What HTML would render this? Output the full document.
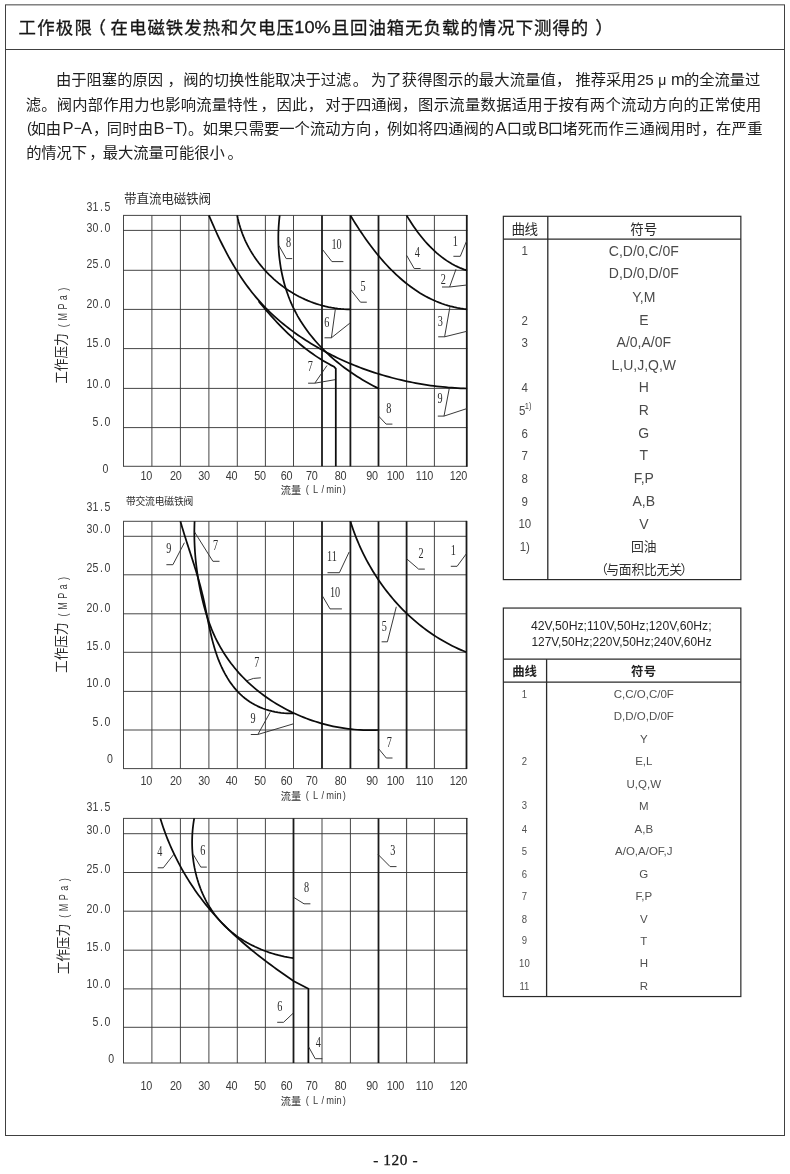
<!DOCTYPE html>
<html lang="zh"><head><meta charset="utf-8"><title>工作极限</title>
<style>html,body{margin:0;padding:0;background:#fff}body{width:790px;height:1174px;overflow:hidden;font-family:"Liberation Sans",sans-serif}svg{display:block;will-change:transform}.cj{font-family:"Liberation Sans","Noto Sans CJK SC",sans-serif}</style>
</head><body>
<svg width="790" height="1174" viewBox="0 0 790 1174" font-family="Liberation Sans, sans-serif">
<rect x="5.5" y="4.85" width="779" height="1130.65" fill="none" stroke="#404040" stroke-width="1"/>
<line x1="5.50" y1="49.50" x2="784.50" y2="49.50" stroke="#404040" stroke-width="1.0" stroke-linecap="butt"/>
<text class="cj" x="18.52" y="33.7" font-size="17.4" fill="#161616" stroke="#161616" stroke-width="0.3" textLength="73.3" lengthAdjust="spacing">工作极限</text>
<text class="cj" x="88.4" y="33.7" font-size="17.4" fill="#161616" stroke="#161616" stroke-width="0.3">（</text>
<text class="cj" x="110.52" y="33.7" font-size="17.4" fill="#161616" stroke="#161616" stroke-width="0.3" textLength="183.3" lengthAdjust="spacing">在电磁铁发热和欠电压</text>
<text x="294.3" y="33.3" font-family="Liberation Sans" font-size="17.2" fill="#161616" stroke="#161616" stroke-width="0.3" textLength="36.4" lengthAdjust="spacingAndGlyphs">10%</text>
<text class="cj" x="331.66" y="33.7" font-size="17.4" fill="#161616" stroke="#161616" stroke-width="0.3" textLength="256.6" lengthAdjust="spacing">且回油箱无负载的情况下测得的</text>
<text class="cj" x="595.6" y="33.7" font-size="17.4" fill="#161616" stroke="#161616" stroke-width="0.3">）</text>
<text class="cj" x="56.05" y="85.4" font-size="15.3" fill="#202020" textLength="106.96" lengthAdjust="spacing">由于阻塞的原因</text>
<text class="cj" x="167.59" y="85.4" font-size="15.3" fill="#202020">，</text>
<text class="cj" x="183.28" y="85.4" font-size="15.3" fill="#202020" textLength="168.1" lengthAdjust="spacing">阀的切换性能取决于过滤</text>
<text class="cj" x="352.68" y="85.4" font-size="15.3" fill="#202020">。</text>
<text class="cj" x="370.96" y="85.4" font-size="15.3" fill="#202020" textLength="184.8" lengthAdjust="spacing">为了获得图示的最大流量值</text>
<text class="cj" x="556.09" y="85.4" font-size="15.3" fill="#202020">，</text>
<text class="cj" x="575.55" y="85.4" font-size="15.3" fill="#202020" textLength="60.8" lengthAdjust="spacing">推荐采用</text>
<text x="636.90" y="84.90" font-family="Liberation Sans" font-size="15.2" text-anchor="start" fill="#202020">25</text>
<text x="658.20" y="84.90" font-family="Liberation Sans" font-size="14" text-anchor="start" fill="#202020">μ</text>
<text x="671.00" y="84.90" font-family="Liberation Sans" font-size="16.4" text-anchor="start" fill="#202020">m</text>
<text class="cj" x="684.11" y="85.4" font-size="15.3" fill="#202020" textLength="76.1" lengthAdjust="spacing">的全流量过</text>
<text class="cj" x="25.68" y="109.8" font-size="15.3" fill="#202020" textLength="232.3" lengthAdjust="spacing">滤。阀内部作用力也影响流量特性</text>
<text class="cj" x="260.49" y="109.8" font-size="15.3" fill="#202020">，</text>
<text class="cj" x="276.60" y="109.8" font-size="15.3" fill="#202020" textLength="30.6" lengthAdjust="spacing">因此</text>
<text class="cj" x="307.79" y="109.8" font-size="15.3" fill="#202020">，</text>
<text class="cj" x="325.33" y="109.8" font-size="15.3" fill="#202020" textLength="76.5" lengthAdjust="spacing">对于四通阀</text>
<text class="cj" x="401.89" y="109.8" font-size="15.3" fill="#202020">，</text>
<text class="cj" x="418.06" y="109.8" font-size="15.3" fill="#202020" textLength="343.2" lengthAdjust="spacing">图示流量数据适用于按有两个流动方向的正常使用</text>
<text x="27.00" y="133.20" font-family="Liberation Sans" font-size="14.6" text-anchor="start" fill="#202020">(</text>
<text class="cj" x="30.70" y="134.0" font-size="15.3" fill="#202020" textLength="30.4" lengthAdjust="spacing">如由</text>
<text x="62.60" y="133.50" font-family="Liberation Sans" font-size="16.6" text-anchor="start" fill="#202020">P</text>
<line x1="74.60" y1="128.40" x2="81.20" y2="128.40" stroke="#202020" stroke-width="1.1" stroke-linecap="butt"/>
<text x="81.00" y="133.50" font-family="Liberation Sans" font-size="16.6" text-anchor="start" fill="#202020">A</text>
<text class="cj" x="92.89" y="134.0" font-size="15.3" fill="#202020">，</text>
<text class="cj" x="106.69" y="134.0" font-size="15.3" fill="#202020" textLength="46.35" lengthAdjust="spacing">同时由</text>
<text x="153.40" y="133.50" font-family="Liberation Sans" font-size="16.6" text-anchor="start" fill="#202020">B</text>
<line x1="165.80" y1="128.40" x2="172.60" y2="128.40" stroke="#202020" stroke-width="1.1" stroke-linecap="butt"/>
<text x="173.20" y="133.50" font-family="Liberation Sans" font-size="16.6" text-anchor="start" fill="#202020">T</text>
<text x="182.60" y="133.20" font-family="Liberation Sans" font-size="14.6" text-anchor="start" fill="#202020">)</text>
<text class="cj" x="187.88" y="134.0" font-size="15.3" fill="#202020">。</text>
<text class="cj" x="202.70" y="134.0" font-size="15.3" fill="#202020" textLength="168.5" lengthAdjust="spacing">如果只需要一个流动方向</text>
<text class="cj" x="373.09" y="134.0" font-size="15.3" fill="#202020">，</text>
<text class="cj" x="387.04" y="134.0" font-size="15.3" fill="#202020" textLength="107.1" lengthAdjust="spacing">例如将四通阀的</text>
<text x="495.20" y="133.50" font-family="Liberation Sans" font-size="17.2" text-anchor="start" fill="#202020">A</text>
<text class="cj" x="506.63" y="134.0" font-size="15.3" fill="#202020" textLength="30.3" lengthAdjust="spacing">口或</text>
<text x="538.00" y="133.50" font-family="Liberation Sans" font-size="16.6" text-anchor="start" fill="#202020">B</text>
<text class="cj" x="547.83" y="134.0" font-size="15.3" fill="#202020">口</text>
<text class="cj" x="562.22" y="134.0" font-size="15.3" fill="#202020" textLength="138.8" lengthAdjust="spacing">堵死而作三通阀用时</text>
<text class="cj" x="701.29" y="134.0" font-size="15.3" fill="#202020">，</text>
<text class="cj" x="715.95" y="134.0" font-size="15.3" fill="#202020" textLength="46.5" lengthAdjust="spacing">在严重</text>
<text class="cj" x="26.21" y="158.3" font-size="15.3" fill="#202020" textLength="60.8" lengthAdjust="spacing">的情况下</text>
<text class="cj" x="89.29" y="158.3" font-size="15.3" fill="#202020">，</text>
<text class="cj" x="102.80" y="158.3" font-size="15.3" fill="#202020" textLength="122.0" lengthAdjust="spacing">最大流量可能很小</text>
<text class="cj" x="227.48" y="158.3" font-size="15.3" fill="#202020">。</text>
<text class="cj" x="124.11" y="202.8" font-size="12.6" fill="#2c2c2c" textLength="87.0" lengthAdjust="spacing">带直流电磁铁阀</text>
<line x1="123.50" y1="215.40" x2="123.50" y2="466.30" stroke="#3c3c3c" stroke-width="0.95" stroke-linecap="butt"/>
<line x1="151.90" y1="215.40" x2="151.90" y2="466.30" stroke="#3c3c3c" stroke-width="0.95" stroke-linecap="butt"/>
<line x1="180.40" y1="215.40" x2="180.40" y2="466.30" stroke="#3c3c3c" stroke-width="0.95" stroke-linecap="butt"/>
<line x1="208.90" y1="215.40" x2="208.90" y2="466.30" stroke="#3c3c3c" stroke-width="0.95" stroke-linecap="butt"/>
<line x1="237.30" y1="215.40" x2="237.30" y2="466.30" stroke="#3c3c3c" stroke-width="0.95" stroke-linecap="butt"/>
<line x1="265.40" y1="215.40" x2="265.40" y2="466.30" stroke="#3c3c3c" stroke-width="0.95" stroke-linecap="butt"/>
<line x1="293.50" y1="215.40" x2="293.50" y2="466.30" stroke="#3c3c3c" stroke-width="0.95" stroke-linecap="butt"/>
<line x1="406.60" y1="215.40" x2="406.60" y2="466.30" stroke="#3c3c3c" stroke-width="0.95" stroke-linecap="butt"/>
<line x1="434.40" y1="215.40" x2="434.40" y2="466.30" stroke="#3c3c3c" stroke-width="0.95" stroke-linecap="butt"/>
<line x1="123.00" y1="215.40" x2="467.30" y2="215.40" stroke="#3c3c3c" stroke-width="0.95" stroke-linecap="butt"/>
<line x1="123.00" y1="230.40" x2="467.30" y2="230.40" stroke="#3c3c3c" stroke-width="0.95" stroke-linecap="butt"/>
<line x1="123.00" y1="270.30" x2="467.30" y2="270.30" stroke="#3c3c3c" stroke-width="0.95" stroke-linecap="butt"/>
<line x1="123.00" y1="309.40" x2="467.30" y2="309.40" stroke="#3c3c3c" stroke-width="0.95" stroke-linecap="butt"/>
<line x1="123.00" y1="348.60" x2="467.30" y2="348.60" stroke="#3c3c3c" stroke-width="0.95" stroke-linecap="butt"/>
<line x1="123.00" y1="388.40" x2="467.30" y2="388.40" stroke="#3c3c3c" stroke-width="0.95" stroke-linecap="butt"/>
<line x1="123.00" y1="427.60" x2="467.30" y2="427.60" stroke="#3c3c3c" stroke-width="0.95" stroke-linecap="butt"/>
<line x1="123.00" y1="466.30" x2="467.30" y2="466.30" stroke="#3c3c3c" stroke-width="0.95" stroke-linecap="butt"/>
<line x1="466.80" y1="215.00" x2="466.80" y2="466.70" stroke="#1a1a1a" stroke-width="1.8" stroke-linecap="butt"/>
<line x1="322.00" y1="215.40" x2="322.00" y2="466.30" stroke="#1a1a1a" stroke-width="1.8" stroke-linecap="butt"/>
<line x1="350.40" y1="215.40" x2="350.40" y2="466.30" stroke="#1a1a1a" stroke-width="1.8" stroke-linecap="butt"/>
<line x1="378.50" y1="215.40" x2="378.50" y2="466.30" stroke="#1a1a1a" stroke-width="1.8" stroke-linecap="butt"/>
<text transform="translate(0,210.80) scale(0.88,1)" x="98.16 105.07 113.65 118.89" y="0" font-family="Liberation Sans, sans-serif" font-size="12.0" fill="#3a3a3a">31.5</text>
<text transform="translate(0,231.60) scale(0.88,1)" x="98.16 105.07 113.65 118.89" y="0" font-family="Liberation Sans, sans-serif" font-size="12.0" fill="#3a3a3a">30.0</text>
<text transform="translate(0,267.70) scale(0.88,1)" x="98.16 105.07 113.65 118.89" y="0" font-family="Liberation Sans, sans-serif" font-size="12.0" fill="#3a3a3a">25.0</text>
<text transform="translate(0,308.00) scale(0.88,1)" x="98.16 105.07 113.65 118.89" y="0" font-family="Liberation Sans, sans-serif" font-size="12.0" fill="#3a3a3a">20.0</text>
<text transform="translate(0,347.40) scale(0.88,1)" x="98.16 105.07 113.65 118.89" y="0" font-family="Liberation Sans, sans-serif" font-size="12.0" fill="#3a3a3a">15.0</text>
<text transform="translate(0,387.90) scale(0.88,1)" x="98.16 105.07 113.65 118.89" y="0" font-family="Liberation Sans, sans-serif" font-size="12.0" fill="#3a3a3a">10.0</text>
<text transform="translate(0,426.40) scale(0.88,1)" x="105.07 113.65 118.89" y="0" font-family="Liberation Sans, sans-serif" font-size="12.0" fill="#3a3a3a">5.0</text>
<text transform="translate(0,473.20) scale(0.88,1)" x="116.39" y="0" font-family="Liberation Sans, sans-serif" font-size="12.0" fill="#3a3a3a">0</text>
<text transform="translate(0,479.70) scale(0.86,1)" x="163.50 170.19" y="0" font-family="Liberation Sans, sans-serif" font-size="12.6" fill="#3a3a3a">10</text>
<text transform="translate(0,479.70) scale(0.86,1)" x="197.57 204.26" y="0" font-family="Liberation Sans, sans-serif" font-size="12.6" fill="#3a3a3a">20</text>
<text transform="translate(0,479.70) scale(0.86,1)" x="230.60 237.28" y="0" font-family="Liberation Sans, sans-serif" font-size="12.6" fill="#3a3a3a">30</text>
<text transform="translate(0,479.70) scale(0.86,1)" x="262.46 269.14" y="0" font-family="Liberation Sans, sans-serif" font-size="12.6" fill="#3a3a3a">40</text>
<text transform="translate(0,479.70) scale(0.86,1)" x="295.71 302.40" y="0" font-family="Liberation Sans, sans-serif" font-size="12.6" fill="#3a3a3a">50</text>
<text transform="translate(0,479.70) scale(0.86,1)" x="326.53 333.21" y="0" font-family="Liberation Sans, sans-serif" font-size="12.6" fill="#3a3a3a">60</text>
<text transform="translate(0,479.70) scale(0.86,1)" x="355.94 362.63" y="0" font-family="Liberation Sans, sans-serif" font-size="12.6" fill="#3a3a3a">70</text>
<text transform="translate(0,479.70) scale(0.86,1)" x="389.32 396.00" y="0" font-family="Liberation Sans, sans-serif" font-size="12.6" fill="#3a3a3a">80</text>
<text transform="translate(0,479.70) scale(0.86,1)" x="425.83 432.51" y="0" font-family="Liberation Sans, sans-serif" font-size="12.6" fill="#3a3a3a">90</text>
<text transform="translate(0,479.70) scale(0.86,1)" x="449.81 456.50 463.18" y="0" font-family="Liberation Sans, sans-serif" font-size="12.6" fill="#3a3a3a">100</text>
<text transform="translate(0,479.70) scale(0.86,1)" x="483.41 490.10 496.79" y="0" font-family="Liberation Sans, sans-serif" font-size="12.6" fill="#3a3a3a">110</text>
<text transform="translate(0,479.70) scale(0.86,1)" x="523.07 529.75 536.44" y="0" font-family="Liberation Sans, sans-serif" font-size="12.6" fill="#3a3a3a">120</text>
<text class="cj" x="280.85" y="493.7" font-size="10.6" fill="#2c2c2c" textLength="20.3" lengthAdjust="spacingAndGlyphs">流量</text>
<text transform="translate(0,492.50) scale(0.8,1)" x="382.07 391.27 402.01 407.67 417.84 420.52 428.57" y="0" font-family="Liberation Sans, sans-serif" font-size="11.6" fill="#3a3a3a">(L/min)</text>
<g transform="translate(66.30,383.60) rotate(-90)">
<text class="cj" x="-0.14" y="0" font-size="14" fill="#2c2c2c" textLength="50.4" lengthAdjust="spacingAndGlyphs">工作压力</text>
<text transform="translate(0,0.20) scale(0.72,1)" x="78.30 87.49 102.85 115.77 129.00" y="0" font-family="Liberation Sans, sans-serif" font-size="12.7" fill="#3a3a3a">(MPa)</text>
</g>
<path d="M406.60 215.40 L408.25 218.10 L409.95 220.80 L411.69 223.48 L413.48 226.14 L415.31 228.78 L417.20 231.39 L419.14 233.97 L421.13 236.51 L423.17 239.01 L425.26 241.46 L427.41 243.86 L429.61 246.21 L431.87 248.49 L434.19 250.71 L436.56 252.85 L438.99 254.92 L441.49 256.91 L444.04 258.81 L446.66 260.63 L449.34 262.35 L452.08 263.97 L454.89 265.48 L457.77 266.89 L460.71 268.18 L463.72 269.35 L466.80 270.40" fill="none" stroke="#0c0c0c" stroke-width="1.75" stroke-linejoin="round"/>
<path d="M350.40 215.40 L351.98 218.00 L353.58 220.60 L355.20 223.20 L356.86 225.79 L358.54 228.39 L360.24 230.97 L361.98 233.56 L363.74 236.13 L365.53 238.69 L367.34 241.23 L369.19 243.76 L371.06 246.27 L372.97 248.77 L374.90 251.24 L376.86 253.69 L378.85 256.11 L380.88 258.51 L382.93 260.87 L385.01 263.21 L387.13 265.51 L389.28 267.78 L391.46 270.01 L393.67 272.20 L395.91 274.35 L398.19 276.45 L400.50 278.51 L402.84 280.53 L405.22 282.49 L407.64 284.40 L410.08 286.26 L412.56 288.07 L415.08 289.82 L417.64 291.51 L420.22 293.14 L422.85 294.70 L425.51 296.20 L428.21 297.64 L430.95 299.00 L433.72 300.30 L436.53 301.52 L439.38 302.67 L442.27 303.74 L445.20 304.73 L448.16 305.64 L451.17 306.47 L454.21 307.21 L457.30 307.87 L460.43 308.44 L463.59 308.91 L466.80 309.30" fill="none" stroke="#0c0c0c" stroke-width="1.75" stroke-linejoin="round"/>
<path d="M237.20 215.40 L237.83 218.49 L238.55 221.56 L239.36 224.59 L240.26 227.60 L241.24 230.57 L242.30 233.51 L243.45 236.41 L244.67 239.27 L245.97 242.10 L247.35 244.89 L248.81 247.64 L250.33 250.34 L251.93 253.00 L253.60 255.62 L255.34 258.20 L257.15 260.72 L259.02 263.20 L260.95 265.63 L262.95 268.00 L265.01 270.33 L267.12 272.60 L269.30 274.81 L271.53 276.97 L273.81 279.08 L276.15 281.12 L278.54 283.10 L280.98 285.03 L283.47 286.89 L286.00 288.68 L288.58 290.41 L291.20 292.08 L293.87 293.67 L296.57 295.20 L299.31 296.66 L302.09 298.04 L304.91 299.35 L307.76 300.59 L310.64 301.76 L313.55 302.84 L316.49 303.85 L319.46 304.78 L322.45 305.62 L325.47 306.39 L328.51 307.07 L331.57 307.67 L334.65 308.18 L337.75 308.60 L340.87 308.94 L344.00 309.18 L347.14 309.34 L350.30 309.40" fill="none" stroke="#0c0c0c" stroke-width="1.75" stroke-linejoin="round"/>
<path d="M279.70 215.40 L279.35 218.45 L279.05 221.51 L278.80 224.57 L278.61 227.64 L278.46 230.72 L278.36 233.79 L278.32 236.88 L278.32 239.96 L278.38 243.04 L278.49 246.12 L278.66 249.20 L278.87 252.27 L279.14 255.33 L279.47 258.39 L279.85 261.44 L280.28 264.49 L280.76 267.52 L281.30 270.53 L281.90 273.54 L282.55 276.53 L283.26 279.50 L284.02 282.46 L284.84 285.40 L285.72 288.31 L286.66 291.21 L287.65 294.08 L288.70 296.93 L289.80 299.75 L290.97 302.55 L292.19 305.32 L293.48 308.06 L294.82 310.76 L296.22 313.44 L297.68 316.09 L299.20 318.70 L300.77 321.28 L302.40 323.83 L304.08 326.34 L305.81 328.83 L307.59 331.28 L309.42 333.69 L311.30 336.08 L313.23 338.43 L315.20 340.74 L317.22 343.02 L319.28 345.27 L321.38 347.48 L323.52 349.66 L325.70 351.81 L327.93 353.92 L330.18 355.99 L332.48 358.03 L334.81 360.04 L337.17 362.00 L339.56 363.94 L341.99 365.83 L344.44 367.69 L346.92 369.52 L349.44 371.30 L351.97 373.05 L354.53 374.77 L357.12 376.44 L359.73 378.08 L362.35 379.69 L365.00 381.25 L367.67 382.78 L370.35 384.26 L373.06 385.71 L375.77 387.13 L378.50 388.50" fill="none" stroke="#0c0c0c" stroke-width="1.75" stroke-linejoin="round"/>
<path d="M208.90 215.40 L210.08 218.17 L211.27 220.94 L212.48 223.71 L213.71 226.48 L214.95 229.24 L216.22 232.01 L217.50 234.77 L218.80 237.52 L220.12 240.27 L221.47 243.01 L222.83 245.75 L224.22 248.47 L225.63 251.18 L227.06 253.88 L228.52 256.57 L230.01 259.24 L231.51 261.90 L233.05 264.54 L234.61 267.16 L236.20 269.76 L237.82 272.34 L239.47 274.90 L241.15 277.44 L242.86 279.96 L244.59 282.45 L246.36 284.92 L248.16 287.36 L249.99 289.78 L251.85 292.17 L253.74 294.53 L255.67 296.87 L257.62 299.17 L259.61 301.44 L261.63 303.68 L263.69 305.89 L265.78 308.07 L267.90 310.22 L270.06 312.33 L272.24 314.40 L274.46 316.45 L276.71 318.46 L278.99 320.44 L281.30 322.39 L283.63 324.30 L285.99 326.19 L288.38 328.05 L290.79 329.88 L293.22 331.67 L295.68 333.44 L298.16 335.18 L300.66 336.89 L303.18 338.58 L305.72 340.23 L308.27 341.86 L310.85 343.46 L313.45 345.03 L316.06 346.57 L318.69 348.09 L321.33 349.58 L324.00 351.04 L326.68 352.47 L329.37 353.88 L332.08 355.26 L334.81 356.60 L337.55 357.93 L340.30 359.22 L343.07 360.49 L345.85 361.72 L348.65 362.93 L351.46 364.12 L354.28 365.27 L357.11 366.40 L359.96 367.50 L362.81 368.57 L365.68 369.61 L368.56 370.62 L371.44 371.61 L374.34 372.57 L377.24 373.50 L380.16 374.41 L383.08 375.28 L386.01 376.13 L388.95 376.95 L391.90 377.74 L394.85 378.51 L397.81 379.24 L400.78 379.95 L403.75 380.63 L406.73 381.29 L409.71 381.91 L412.69 382.51 L415.69 383.08 L418.68 383.62 L421.68 384.13 L424.68 384.62 L427.68 385.08 L430.69 385.51 L433.70 385.91 L436.71 386.29 L439.72 386.63 L442.73 386.95 L445.74 387.24 L448.75 387.51 L451.76 387.74 L454.77 387.95 L457.78 388.13 L460.79 388.28 L463.80 388.40 L466.80 388.50" fill="none" stroke="#0c0c0c" stroke-width="1.75" stroke-linejoin="round"/>
<path d="M258.60 301.20 L260.59 303.63 L262.59 306.04 L264.62 308.45 L266.67 310.84 L268.73 313.22 L270.82 315.58 L272.93 317.93 L275.06 320.26 L277.22 322.57 L279.39 324.85 L281.59 327.12 L283.82 329.36 L286.07 331.58 L288.35 333.76 L290.65 335.92 L292.97 338.05 L295.33 340.15 L297.71 342.21 L300.12 344.24 L302.55 346.24 L305.02 348.19 L307.52 350.11 L310.04 351.99 L312.60 353.82 L315.18 355.61 L317.80 357.36 L320.45 359.06 L323.14 360.71 L325.85 362.31 L328.60 363.86 L331.38 365.36 L334.20 366.80 L335.80 368.60 L335.80 466.30" fill="none" stroke="#0c0c0c" stroke-width="1.75" stroke-linejoin="round"/>
<text transform="translate(288.60,246.70) scale(0.7,1)" font-family="Liberation Serif" font-size="14.6" text-anchor="middle" fill="#2a2a2a">8</text>
<polyline points="278.80,245.40 286.20,258.60 292.20,258.60" fill="none" stroke="#2e2e2e" stroke-width="0.95" stroke-linejoin="round"/>
<text transform="translate(336.60,249.30) scale(0.7,1)" font-family="Liberation Serif" font-size="14.6" text-anchor="middle" fill="#2a2a2a">10</text>
<polyline points="321.90,248.70 331.90,261.60 343.40,261.60" fill="none" stroke="#2e2e2e" stroke-width="0.95" stroke-linejoin="round"/>
<text transform="translate(363.00,290.70) scale(0.7,1)" font-family="Liberation Serif" font-size="14.6" text-anchor="middle" fill="#2a2a2a">5</text>
<polyline points="350.40,289.50 360.50,302.20 366.80,302.20" fill="none" stroke="#2e2e2e" stroke-width="0.95" stroke-linejoin="round"/>
<text transform="translate(417.20,256.50) scale(0.7,1)" font-family="Liberation Serif" font-size="14.6" text-anchor="middle" fill="#2a2a2a">4</text>
<polyline points="406.60,255.30 414.20,268.50 420.60,268.50" fill="none" stroke="#2e2e2e" stroke-width="0.95" stroke-linejoin="round"/>
<text transform="translate(455.40,245.50) scale(0.7,1)" font-family="Liberation Serif" font-size="14.6" text-anchor="middle" fill="#2a2a2a">1</text>
<polyline points="466.60,241.00 460.30,256.30 453.40,256.30" fill="none" stroke="#2e2e2e" stroke-width="0.95" stroke-linejoin="round"/>
<text transform="translate(443.40,283.50) scale(0.7,1)" font-family="Liberation Serif" font-size="14.6" text-anchor="middle" fill="#2a2a2a">2</text>
<polyline points="442.00,287.00 449.60,287.00 456.00,269.20" fill="none" stroke="#2e2e2e" stroke-width="0.95" stroke-linejoin="round"/>
<polyline points="449.60,287.00 466.80,285.00" fill="none" stroke="#2e2e2e" stroke-width="0.95" stroke-linejoin="round"/>
<text transform="translate(440.30,325.90) scale(0.7,1)" font-family="Liberation Serif" font-size="14.6" text-anchor="middle" fill="#2a2a2a">3</text>
<polyline points="438.20,336.80 444.60,336.80 450.00,306.50" fill="none" stroke="#2e2e2e" stroke-width="0.95" stroke-linejoin="round"/>
<polyline points="444.60,336.80 466.80,331.30" fill="none" stroke="#2e2e2e" stroke-width="0.95" stroke-linejoin="round"/>
<text transform="translate(326.70,326.60) scale(0.7,1)" font-family="Liberation Serif" font-size="14.6" text-anchor="middle" fill="#2a2a2a">6</text>
<polyline points="324.50,337.80 331.40,337.80 335.40,308.80" fill="none" stroke="#2e2e2e" stroke-width="0.95" stroke-linejoin="round"/>
<polyline points="331.40,337.80 349.80,323.20" fill="none" stroke="#2e2e2e" stroke-width="0.95" stroke-linejoin="round"/>
<text transform="translate(310.30,370.80) scale(0.7,1)" font-family="Liberation Serif" font-size="14.6" text-anchor="middle" fill="#2a2a2a">7</text>
<polyline points="308.10,383.20 314.80,383.20 327.00,365.50" fill="none" stroke="#2e2e2e" stroke-width="0.95" stroke-linejoin="round"/>
<polyline points="314.80,383.20 335.00,379.70" fill="none" stroke="#2e2e2e" stroke-width="0.95" stroke-linejoin="round"/>
<text transform="translate(388.90,412.80) scale(0.7,1)" font-family="Liberation Serif" font-size="14.6" text-anchor="middle" fill="#2a2a2a">8</text>
<polyline points="378.60,416.10 386.10,424.10 392.40,424.10" fill="none" stroke="#2e2e2e" stroke-width="0.95" stroke-linejoin="round"/>
<text transform="translate(440.10,403.30) scale(0.7,1)" font-family="Liberation Serif" font-size="14.6" text-anchor="middle" fill="#2a2a2a">9</text>
<polyline points="437.80,416.10 444.00,416.10 449.20,388.80" fill="none" stroke="#2e2e2e" stroke-width="0.95" stroke-linejoin="round"/>
<polyline points="444.00,416.10 466.80,408.60" fill="none" stroke="#2e2e2e" stroke-width="0.95" stroke-linejoin="round"/>
<text class="cj" x="125.88" y="504.6" font-size="9.8" fill="#2c2c2c" textLength="67.5" lengthAdjust="spacing">带交流电磁铁阀</text>
<line x1="123.50" y1="521.30" x2="123.50" y2="768.60" stroke="#3c3c3c" stroke-width="0.95" stroke-linecap="butt"/>
<line x1="151.90" y1="521.30" x2="151.90" y2="768.60" stroke="#3c3c3c" stroke-width="0.95" stroke-linecap="butt"/>
<line x1="180.40" y1="521.30" x2="180.40" y2="768.60" stroke="#3c3c3c" stroke-width="0.95" stroke-linecap="butt"/>
<line x1="208.90" y1="521.30" x2="208.90" y2="768.60" stroke="#3c3c3c" stroke-width="0.95" stroke-linecap="butt"/>
<line x1="237.30" y1="521.30" x2="237.30" y2="768.60" stroke="#3c3c3c" stroke-width="0.95" stroke-linecap="butt"/>
<line x1="265.40" y1="521.30" x2="265.40" y2="768.60" stroke="#3c3c3c" stroke-width="0.95" stroke-linecap="butt"/>
<line x1="293.50" y1="521.30" x2="293.50" y2="768.60" stroke="#3c3c3c" stroke-width="0.95" stroke-linecap="butt"/>
<line x1="434.40" y1="521.30" x2="434.40" y2="768.60" stroke="#3c3c3c" stroke-width="0.95" stroke-linecap="butt"/>
<line x1="123.00" y1="521.30" x2="467.00" y2="521.30" stroke="#3c3c3c" stroke-width="0.95" stroke-linecap="butt"/>
<line x1="123.00" y1="536.30" x2="467.00" y2="536.30" stroke="#3c3c3c" stroke-width="0.95" stroke-linecap="butt"/>
<line x1="123.00" y1="574.80" x2="467.00" y2="574.80" stroke="#3c3c3c" stroke-width="0.95" stroke-linecap="butt"/>
<line x1="123.00" y1="613.80" x2="467.00" y2="613.80" stroke="#3c3c3c" stroke-width="0.95" stroke-linecap="butt"/>
<line x1="123.00" y1="652.30" x2="467.00" y2="652.30" stroke="#3c3c3c" stroke-width="0.95" stroke-linecap="butt"/>
<line x1="123.00" y1="691.40" x2="467.00" y2="691.40" stroke="#3c3c3c" stroke-width="0.95" stroke-linecap="butt"/>
<line x1="123.00" y1="730.00" x2="467.00" y2="730.00" stroke="#3c3c3c" stroke-width="0.95" stroke-linecap="butt"/>
<line x1="123.00" y1="768.60" x2="467.00" y2="768.60" stroke="#3c3c3c" stroke-width="0.95" stroke-linecap="butt"/>
<line x1="466.50" y1="520.90" x2="466.50" y2="769.00" stroke="#1a1a1a" stroke-width="1.8" stroke-linecap="butt"/>
<line x1="322.00" y1="521.30" x2="322.00" y2="768.60" stroke="#1a1a1a" stroke-width="1.8" stroke-linecap="butt"/>
<line x1="350.40" y1="521.30" x2="350.40" y2="768.60" stroke="#1a1a1a" stroke-width="1.8" stroke-linecap="butt"/>
<line x1="378.50" y1="521.30" x2="378.50" y2="768.60" stroke="#1a1a1a" stroke-width="1.8" stroke-linecap="butt"/>
<line x1="406.60" y1="521.30" x2="406.60" y2="768.60" stroke="#1a1a1a" stroke-width="1.8" stroke-linecap="butt"/>
<text transform="translate(0,510.90) scale(0.88,1)" x="98.16 105.07 113.65 118.89" y="0" font-family="Liberation Sans, sans-serif" font-size="12.0" fill="#3a3a3a">31.5</text>
<text transform="translate(0,533.10) scale(0.88,1)" x="98.16 105.07 113.65 118.89" y="0" font-family="Liberation Sans, sans-serif" font-size="12.0" fill="#3a3a3a">30.0</text>
<text transform="translate(0,572.00) scale(0.88,1)" x="98.16 105.07 113.65 118.89" y="0" font-family="Liberation Sans, sans-serif" font-size="12.0" fill="#3a3a3a">25.0</text>
<text transform="translate(0,612.10) scale(0.88,1)" x="98.16 105.07 113.65 118.89" y="0" font-family="Liberation Sans, sans-serif" font-size="12.0" fill="#3a3a3a">20.0</text>
<text transform="translate(0,650.00) scale(0.88,1)" x="98.16 105.07 113.65 118.89" y="0" font-family="Liberation Sans, sans-serif" font-size="12.0" fill="#3a3a3a">15.0</text>
<text transform="translate(0,686.60) scale(0.88,1)" x="98.16 105.07 113.65 118.89" y="0" font-family="Liberation Sans, sans-serif" font-size="12.0" fill="#3a3a3a">10.0</text>
<text transform="translate(0,725.70) scale(0.88,1)" x="105.07 113.65 118.89" y="0" font-family="Liberation Sans, sans-serif" font-size="12.0" fill="#3a3a3a">5.0</text>
<text transform="translate(0,762.50) scale(0.88,1)" x="121.62" y="0" font-family="Liberation Sans, sans-serif" font-size="12.0" fill="#3a3a3a">0</text>
<text transform="translate(0,784.60) scale(0.86,1)" x="163.50 170.19" y="0" font-family="Liberation Sans, sans-serif" font-size="12.6" fill="#3a3a3a">10</text>
<text transform="translate(0,784.60) scale(0.86,1)" x="197.57 204.26" y="0" font-family="Liberation Sans, sans-serif" font-size="12.6" fill="#3a3a3a">20</text>
<text transform="translate(0,784.60) scale(0.86,1)" x="230.60 237.28" y="0" font-family="Liberation Sans, sans-serif" font-size="12.6" fill="#3a3a3a">30</text>
<text transform="translate(0,784.60) scale(0.86,1)" x="262.46 269.14" y="0" font-family="Liberation Sans, sans-serif" font-size="12.6" fill="#3a3a3a">40</text>
<text transform="translate(0,784.60) scale(0.86,1)" x="295.71 302.40" y="0" font-family="Liberation Sans, sans-serif" font-size="12.6" fill="#3a3a3a">50</text>
<text transform="translate(0,784.60) scale(0.86,1)" x="326.53 333.21" y="0" font-family="Liberation Sans, sans-serif" font-size="12.6" fill="#3a3a3a">60</text>
<text transform="translate(0,784.60) scale(0.86,1)" x="355.94 362.63" y="0" font-family="Liberation Sans, sans-serif" font-size="12.6" fill="#3a3a3a">70</text>
<text transform="translate(0,784.60) scale(0.86,1)" x="389.32 396.00" y="0" font-family="Liberation Sans, sans-serif" font-size="12.6" fill="#3a3a3a">80</text>
<text transform="translate(0,784.60) scale(0.86,1)" x="425.83 432.51" y="0" font-family="Liberation Sans, sans-serif" font-size="12.6" fill="#3a3a3a">90</text>
<text transform="translate(0,784.60) scale(0.86,1)" x="449.81 456.50 463.18" y="0" font-family="Liberation Sans, sans-serif" font-size="12.6" fill="#3a3a3a">100</text>
<text transform="translate(0,784.60) scale(0.86,1)" x="483.41 490.10 496.79" y="0" font-family="Liberation Sans, sans-serif" font-size="12.6" fill="#3a3a3a">110</text>
<text transform="translate(0,784.60) scale(0.86,1)" x="523.07 529.75 536.44" y="0" font-family="Liberation Sans, sans-serif" font-size="12.6" fill="#3a3a3a">120</text>
<text class="cj" x="280.85" y="799.9" font-size="10.6" fill="#2c2c2c" textLength="20.3" lengthAdjust="spacingAndGlyphs">流量</text>
<text transform="translate(0,798.70) scale(0.8,1)" x="382.07 391.27 402.01 407.67 417.84 420.52 428.57" y="0" font-family="Liberation Sans, sans-serif" font-size="11.6" fill="#3a3a3a">(L/min)</text>
<g transform="translate(66.30,672.80) rotate(-90)">
<text class="cj" x="-0.14" y="0" font-size="14" fill="#2c2c2c" textLength="50.4" lengthAdjust="spacingAndGlyphs">工作压力</text>
<text transform="translate(0,0.20) scale(0.72,1)" x="78.30 87.49 102.85 115.77 129.00" y="0" font-family="Liberation Sans, sans-serif" font-size="12.7" fill="#3a3a3a">(MPa)</text>
</g>
<path d="M180.40 521.30 L181.25 524.25 L182.11 527.18 L182.99 530.11 L183.89 533.02 L184.79 535.93 L185.71 538.83 L186.63 541.73 L187.56 544.61 L188.49 547.50 L189.43 550.38 L190.36 553.26 L191.30 556.14 L192.22 559.02 L193.14 561.89 L194.06 564.77 L194.96 567.65 L195.85 570.54 L196.73 573.43 L197.59 576.32 L198.44 579.23 L199.26 582.13 L200.06 585.05 L200.84 587.98 L201.59 590.91 L202.32 593.86 L203.01 596.82 L203.68 599.79 L204.33 602.77 L204.96 605.75 L205.57 608.75 L206.18 611.75 L206.78 614.75 L207.38 617.75 L207.98 620.76 L208.59 623.76 L209.22 626.76 L209.86 629.75 L210.53 632.74 L211.22 635.72 L211.94 638.69 L212.70 641.65 L213.50 644.60 L214.34 647.53 L215.23 650.45 L216.17 653.35 L217.17 656.23 L218.23 659.09 L219.36 661.93 L220.55 664.73 L221.80 667.50 L223.13 670.23 L224.52 672.92 L225.99 675.56 L227.52 678.14 L229.13 680.67 L230.82 683.13 L232.59 685.52 L234.43 687.85 L236.35 690.09 L238.36 692.26 L240.45 694.33 L242.62 696.32 L244.88 698.21 L247.23 700.00 L249.67 701.68 L252.20 703.26 L254.81 704.73 L257.49 706.08 L260.24 707.33 L263.06 708.46 L265.94 709.48 L268.87 710.39 L271.86 711.17 L274.89 711.84 L277.95 712.39 L281.06 712.82 L284.19 713.13 L287.34 713.31 L290.51 713.37 L293.70 713.30" fill="none" stroke="#0c0c0c" stroke-width="1.75" stroke-linejoin="round"/>
<path d="M194.60 521.30 L194.48 524.33 L194.40 527.36 L194.35 530.39 L194.33 533.43 L194.35 536.47 L194.41 539.51 L194.50 542.55 L194.63 545.60 L194.79 548.65 L194.98 551.69 L195.21 554.74 L195.47 557.78 L195.76 560.83 L196.09 563.87 L196.45 566.92 L196.84 569.95 L197.27 572.99 L197.72 576.02 L198.21 579.05 L198.73 582.08 L199.28 585.10 L199.86 588.11 L200.47 591.12 L201.12 594.12 L201.79 597.12 L202.49 600.11 L203.23 603.08 L204.00 606.05 L204.81 609.01 L205.66 611.95 L206.55 614.88 L207.48 617.79 L208.45 620.68 L209.47 623.55 L210.54 626.41 L211.66 629.24 L212.83 632.05 L214.06 634.83 L215.33 637.58 L216.67 640.31 L218.06 643.01 L219.50 645.68 L221.00 648.32 L222.56 650.92 L224.16 653.49 L225.82 656.03 L227.53 658.53 L229.30 661.00 L231.11 663.44 L232.97 665.83 L234.88 668.19 L236.83 670.51 L238.83 672.80 L240.88 675.04 L242.97 677.24 L245.10 679.41 L247.28 681.53 L249.49 683.61 L251.75 685.65 L254.04 687.65 L256.38 689.61 L258.74 691.53 L261.15 693.40 L263.59 695.23 L266.07 697.02 L268.57 698.77 L271.11 700.47 L273.68 702.13 L276.28 703.74 L278.91 705.31 L281.57 706.84 L284.26 708.32 L286.97 709.75 L289.70 711.14 L292.46 712.49 L295.25 713.78 L298.05 715.03 L300.88 716.24 L303.72 717.39 L306.59 718.50 L309.47 719.56 L312.37 720.57 L315.29 721.54 L318.22 722.45 L321.17 723.32 L324.13 724.13 L327.10 724.90 L330.08 725.62 L333.07 726.28 L336.07 726.90 L339.08 727.46 L342.10 727.97 L345.12 728.43 L348.15 728.84 L351.18 729.20 L354.22 729.50 L357.26 729.75 L360.30 729.95 L363.33 730.10 L366.37 730.19 L369.41 730.22 L372.44 730.20 L375.47 730.13 L378.50 730.00" fill="none" stroke="#0c0c0c" stroke-width="1.75" stroke-linejoin="round"/>
<path d="M350.40 521.30 L351.32 524.21 L352.29 527.11 L353.29 529.99 L354.34 532.87 L355.42 535.73 L356.55 538.58 L357.71 541.41 L358.92 544.23 L360.16 547.03 L361.44 549.82 L362.76 552.59 L364.12 555.34 L365.52 558.07 L366.95 560.79 L368.42 563.48 L369.93 566.15 L371.48 568.81 L373.06 571.44 L374.68 574.05 L376.34 576.63 L378.03 579.19 L379.76 581.73 L381.52 584.24 L383.32 586.73 L385.16 589.19 L387.03 591.62 L388.93 594.02 L390.87 596.40 L392.84 598.75 L394.84 601.06 L396.88 603.35 L398.95 605.60 L401.06 607.83 L403.19 610.02 L405.36 612.17 L407.57 614.30 L409.80 616.38 L412.07 618.44 L414.36 620.45 L416.69 622.43 L419.05 624.38 L421.44 626.28 L423.86 628.15 L426.31 629.98 L428.79 631.76 L431.30 633.51 L433.84 635.21 L436.40 636.88 L439.00 638.50 L441.63 640.07 L444.28 641.61 L446.96 643.09 L449.67 644.54 L452.41 645.93 L455.17 647.28 L457.97 648.59 L460.78 649.84 L463.63 651.04 L466.50 652.20" fill="none" stroke="#0c0c0c" stroke-width="1.75" stroke-linejoin="round"/>
<text transform="translate(168.80,552.90) scale(0.7,1)" font-family="Liberation Serif" font-size="14.6" text-anchor="middle" fill="#2a2a2a">9</text>
<polyline points="166.40,564.70 172.90,564.70 184.40,542.70" fill="none" stroke="#2e2e2e" stroke-width="0.95" stroke-linejoin="round"/>
<text transform="translate(215.60,549.90) scale(0.7,1)" font-family="Liberation Serif" font-size="14.6" text-anchor="middle" fill="#2a2a2a">7</text>
<polyline points="194.50,531.90 212.90,561.30 219.50,561.30" fill="none" stroke="#2e2e2e" stroke-width="0.95" stroke-linejoin="round"/>
<text transform="translate(332.00,561.10) scale(0.7,1)" font-family="Liberation Serif" font-size="14.6" text-anchor="middle" fill="#2a2a2a">11</text>
<polyline points="327.50,572.70 339.40,572.70 349.20,551.90" fill="none" stroke="#2e2e2e" stroke-width="0.95" stroke-linejoin="round"/>
<text transform="translate(335.10,597.30) scale(0.7,1)" font-family="Liberation Serif" font-size="14.6" text-anchor="middle" fill="#2a2a2a">10</text>
<polyline points="322.60,596.20 330.00,608.90 341.90,608.90" fill="none" stroke="#2e2e2e" stroke-width="0.95" stroke-linejoin="round"/>
<text transform="translate(421.10,558.10) scale(0.7,1)" font-family="Liberation Serif" font-size="14.6" text-anchor="middle" fill="#2a2a2a">2</text>
<polyline points="406.50,558.70 418.60,569.10 424.80,569.10" fill="none" stroke="#2e2e2e" stroke-width="0.95" stroke-linejoin="round"/>
<text transform="translate(453.30,555.00) scale(0.7,1)" font-family="Liberation Serif" font-size="14.6" text-anchor="middle" fill="#2a2a2a">1</text>
<polyline points="466.40,553.70 457.10,566.30 450.80,566.30" fill="none" stroke="#2e2e2e" stroke-width="0.95" stroke-linejoin="round"/>
<text transform="translate(384.20,630.70) scale(0.7,1)" font-family="Liberation Serif" font-size="14.6" text-anchor="middle" fill="#2a2a2a">5</text>
<polyline points="381.60,641.80 387.40,641.80 396.30,606.80" fill="none" stroke="#2e2e2e" stroke-width="0.95" stroke-linejoin="round"/>
<text transform="translate(256.90,666.90) scale(0.7,1)" font-family="Liberation Serif" font-size="14.6" text-anchor="middle" fill="#2a2a2a">7</text>
<path d="M246.6 680.8Q253 677.6 260.8 677.8" fill="none" stroke="#2e2e2e" stroke-width="0.95"/>
<text transform="translate(253.00,722.60) scale(0.7,1)" font-family="Liberation Serif" font-size="14.6" text-anchor="middle" fill="#2a2a2a">9</text>
<polyline points="250.80,734.50 257.80,734.50 270.10,712.40" fill="none" stroke="#2e2e2e" stroke-width="0.95" stroke-linejoin="round"/>
<polyline points="257.80,734.50 293.20,723.90" fill="none" stroke="#2e2e2e" stroke-width="0.95" stroke-linejoin="round"/>
<text transform="translate(389.30,746.80) scale(0.7,1)" font-family="Liberation Serif" font-size="14.6" text-anchor="middle" fill="#2a2a2a">7</text>
<polyline points="378.70,748.80 386.30,758.00 392.50,758.00" fill="none" stroke="#2e2e2e" stroke-width="0.95" stroke-linejoin="round"/>
<line x1="123.50" y1="818.40" x2="123.50" y2="1063.00" stroke="#3c3c3c" stroke-width="0.95" stroke-linecap="butt"/>
<line x1="151.90" y1="818.40" x2="151.90" y2="1063.00" stroke="#3c3c3c" stroke-width="0.95" stroke-linecap="butt"/>
<line x1="180.40" y1="818.40" x2="180.40" y2="1063.00" stroke="#3c3c3c" stroke-width="0.95" stroke-linecap="butt"/>
<line x1="208.90" y1="818.40" x2="208.90" y2="1063.00" stroke="#3c3c3c" stroke-width="0.95" stroke-linecap="butt"/>
<line x1="237.30" y1="818.40" x2="237.30" y2="1063.00" stroke="#3c3c3c" stroke-width="0.95" stroke-linecap="butt"/>
<line x1="265.40" y1="818.40" x2="265.40" y2="1063.00" stroke="#3c3c3c" stroke-width="0.95" stroke-linecap="butt"/>
<line x1="322.00" y1="818.40" x2="322.00" y2="1063.00" stroke="#3c3c3c" stroke-width="0.95" stroke-linecap="butt"/>
<line x1="350.40" y1="818.40" x2="350.40" y2="1063.00" stroke="#3c3c3c" stroke-width="0.95" stroke-linecap="butt"/>
<line x1="406.60" y1="818.40" x2="406.60" y2="1063.00" stroke="#3c3c3c" stroke-width="0.95" stroke-linecap="butt"/>
<line x1="434.40" y1="818.40" x2="434.40" y2="1063.00" stroke="#3c3c3c" stroke-width="0.95" stroke-linecap="butt"/>
<line x1="123.00" y1="818.40" x2="467.30" y2="818.40" stroke="#3c3c3c" stroke-width="0.95" stroke-linecap="butt"/>
<line x1="123.00" y1="833.70" x2="467.30" y2="833.70" stroke="#3c3c3c" stroke-width="0.95" stroke-linecap="butt"/>
<line x1="123.00" y1="872.50" x2="467.30" y2="872.50" stroke="#3c3c3c" stroke-width="0.95" stroke-linecap="butt"/>
<line x1="123.00" y1="911.20" x2="467.30" y2="911.20" stroke="#3c3c3c" stroke-width="0.95" stroke-linecap="butt"/>
<line x1="123.00" y1="950.20" x2="467.30" y2="950.20" stroke="#3c3c3c" stroke-width="0.95" stroke-linecap="butt"/>
<line x1="123.00" y1="988.90" x2="467.30" y2="988.90" stroke="#3c3c3c" stroke-width="0.95" stroke-linecap="butt"/>
<line x1="123.00" y1="1027.30" x2="467.30" y2="1027.30" stroke="#3c3c3c" stroke-width="0.95" stroke-linecap="butt"/>
<line x1="123.00" y1="1063.00" x2="467.30" y2="1063.00" stroke="#3c3c3c" stroke-width="0.95" stroke-linecap="butt"/>
<line x1="466.80" y1="818.00" x2="466.80" y2="1063.40" stroke="#1a1a1a" stroke-width="1.3" stroke-linecap="butt"/>
<line x1="293.50" y1="818.40" x2="293.50" y2="1063.00" stroke="#1a1a1a" stroke-width="1.8" stroke-linecap="butt"/>
<line x1="378.50" y1="818.40" x2="378.50" y2="1063.00" stroke="#1a1a1a" stroke-width="1.8" stroke-linecap="butt"/>
<text transform="translate(0,811.10) scale(0.88,1)" x="98.16 105.07 113.65 118.89" y="0" font-family="Liberation Sans, sans-serif" font-size="12.0" fill="#3a3a3a">31.5</text>
<text transform="translate(0,834.00) scale(0.88,1)" x="98.16 105.07 113.65 118.89" y="0" font-family="Liberation Sans, sans-serif" font-size="12.0" fill="#3a3a3a">30.0</text>
<text transform="translate(0,872.80) scale(0.88,1)" x="98.16 105.07 113.65 118.89" y="0" font-family="Liberation Sans, sans-serif" font-size="12.0" fill="#3a3a3a">25.0</text>
<text transform="translate(0,913.20) scale(0.88,1)" x="98.16 105.07 113.65 118.89" y="0" font-family="Liberation Sans, sans-serif" font-size="12.0" fill="#3a3a3a">20.0</text>
<text transform="translate(0,950.80) scale(0.88,1)" x="98.16 105.07 113.65 118.89" y="0" font-family="Liberation Sans, sans-serif" font-size="12.0" fill="#3a3a3a">15.0</text>
<text transform="translate(0,987.80) scale(0.88,1)" x="98.16 105.07 113.65 118.89" y="0" font-family="Liberation Sans, sans-serif" font-size="12.0" fill="#3a3a3a">10.0</text>
<text transform="translate(0,1026.20) scale(0.88,1)" x="105.07 113.65 118.89" y="0" font-family="Liberation Sans, sans-serif" font-size="12.0" fill="#3a3a3a">5.0</text>
<text transform="translate(0,1063.40) scale(0.88,1)" x="122.98" y="0" font-family="Liberation Sans, sans-serif" font-size="12.0" fill="#3a3a3a">0</text>
<text transform="translate(0,1089.80) scale(0.86,1)" x="163.50 170.19" y="0" font-family="Liberation Sans, sans-serif" font-size="12.6" fill="#3a3a3a">10</text>
<text transform="translate(0,1089.80) scale(0.86,1)" x="197.57 204.26" y="0" font-family="Liberation Sans, sans-serif" font-size="12.6" fill="#3a3a3a">20</text>
<text transform="translate(0,1089.80) scale(0.86,1)" x="230.60 237.28" y="0" font-family="Liberation Sans, sans-serif" font-size="12.6" fill="#3a3a3a">30</text>
<text transform="translate(0,1089.80) scale(0.86,1)" x="262.46 269.14" y="0" font-family="Liberation Sans, sans-serif" font-size="12.6" fill="#3a3a3a">40</text>
<text transform="translate(0,1089.80) scale(0.86,1)" x="295.71 302.40" y="0" font-family="Liberation Sans, sans-serif" font-size="12.6" fill="#3a3a3a">50</text>
<text transform="translate(0,1089.80) scale(0.86,1)" x="326.53 333.21" y="0" font-family="Liberation Sans, sans-serif" font-size="12.6" fill="#3a3a3a">60</text>
<text transform="translate(0,1089.80) scale(0.86,1)" x="355.94 362.63" y="0" font-family="Liberation Sans, sans-serif" font-size="12.6" fill="#3a3a3a">70</text>
<text transform="translate(0,1089.80) scale(0.86,1)" x="389.32 396.00" y="0" font-family="Liberation Sans, sans-serif" font-size="12.6" fill="#3a3a3a">80</text>
<text transform="translate(0,1089.80) scale(0.86,1)" x="425.83 432.51" y="0" font-family="Liberation Sans, sans-serif" font-size="12.6" fill="#3a3a3a">90</text>
<text transform="translate(0,1089.80) scale(0.86,1)" x="449.81 456.50 463.18" y="0" font-family="Liberation Sans, sans-serif" font-size="12.6" fill="#3a3a3a">100</text>
<text transform="translate(0,1089.80) scale(0.86,1)" x="483.41 490.10 496.79" y="0" font-family="Liberation Sans, sans-serif" font-size="12.6" fill="#3a3a3a">110</text>
<text transform="translate(0,1089.80) scale(0.86,1)" x="523.07 529.75 536.44" y="0" font-family="Liberation Sans, sans-serif" font-size="12.6" fill="#3a3a3a">120</text>
<text class="cj" x="280.85" y="1104.9" font-size="10.6" fill="#2c2c2c" textLength="20.3" lengthAdjust="spacingAndGlyphs">流量</text>
<text transform="translate(0,1103.70) scale(0.8,1)" x="382.07 391.27 402.01 407.67 417.84 420.52 428.57" y="0" font-family="Liberation Sans, sans-serif" font-size="11.6" fill="#3a3a3a">(L/min)</text>
<g transform="translate(67.80,974.20) rotate(-90)">
<text class="cj" x="-0.14" y="0" font-size="14" fill="#2c2c2c" textLength="50.4" lengthAdjust="spacingAndGlyphs">工作压力</text>
<text transform="translate(0,0.20) scale(0.72,1)" x="78.30 87.49 102.85 115.77 129.00" y="0" font-family="Liberation Sans, sans-serif" font-size="12.7" fill="#3a3a3a">(MPa)</text>
</g>
<path d="M160.30 818.40 L161.22 821.36 L162.17 824.30 L163.16 827.23 L164.18 830.15 L165.24 833.05 L166.33 835.94 L167.45 838.81 L168.61 841.67 L169.80 844.51 L171.03 847.33 L172.29 850.14 L173.58 852.94 L174.91 855.71 L176.26 858.47 L177.65 861.21 L179.08 863.94 L180.53 866.64 L182.02 869.33 L183.54 872.00 L185.09 874.65 L186.67 877.28 L188.28 879.89 L189.92 882.49 L191.59 885.06 L193.30 887.61 L195.03 890.14 L196.79 892.65 L198.59 895.14 L200.41 897.60 L202.26 900.05 L204.14 902.47 L206.06 904.87 L207.99 907.24 L209.96 909.59 L211.96 911.92 L213.98 914.23 L216.03 916.51 L218.11 918.78 L220.21 921.01 L222.33 923.23 L224.48 925.43 L226.66 927.60 L228.85 929.76 L231.07 931.89 L233.31 934.00 L235.56 936.09 L237.84 938.17 L240.14 940.22 L242.45 942.26 L244.78 944.27 L247.13 946.27 L249.49 948.25 L251.87 950.22 L254.26 952.16 L256.67 954.09 L259.09 956.00 L261.52 957.90 L263.96 959.78 L266.42 961.64 L268.88 963.49 L271.35 965.32 L273.83 967.14 L276.32 968.95 L278.82 970.74 L281.32 972.51 L283.83 974.28 L286.34 976.03 L288.86 977.76 L291.38 979.49 L293.90 981.20 L308.40 988.80 L308.40 1063.00" fill="none" stroke="#0c0c0c" stroke-width="1.75" stroke-linejoin="round"/>
<path d="M194.20 818.40 L193.69 821.44 L193.26 824.50 L192.89 827.57 L192.59 830.65 L192.36 833.74 L192.21 836.83 L192.12 839.93 L192.10 843.03 L192.16 846.13 L192.28 849.23 L192.48 852.32 L192.74 855.41 L193.08 858.49 L193.49 861.55 L193.97 864.61 L194.52 867.64 L195.14 870.66 L195.84 873.66 L196.60 876.64 L197.44 879.59 L198.35 882.52 L199.33 885.42 L200.38 888.28 L201.50 891.12 L202.70 893.92 L203.97 896.68 L205.31 899.40 L206.72 902.08 L208.20 904.71 L209.76 907.30 L211.39 909.84 L213.09 912.33 L214.87 914.77 L216.72 917.15 L218.64 919.48 L220.63 921.75 L222.70 923.95 L224.84 926.09 L227.05 928.17 L229.32 930.19 L231.66 932.14 L234.06 934.03 L236.52 935.85 L239.03 937.61 L241.60 939.30 L244.21 940.92 L246.87 942.48 L249.58 943.98 L252.32 945.41 L255.11 946.77 L257.93 948.06 L260.78 949.29 L263.66 950.44 L266.57 951.53 L269.50 952.55 L272.46 953.50 L275.43 954.39 L278.42 955.20 L281.42 955.94 L284.43 956.61 L287.45 957.21 L290.48 957.74 L293.50 958.20" fill="none" stroke="#0c0c0c" stroke-width="1.75" stroke-linejoin="round"/>
<text transform="translate(159.70,856.30) scale(0.7,1)" font-family="Liberation Serif" font-size="14.6" text-anchor="middle" fill="#2a2a2a">4</text>
<polyline points="157.70,867.80 163.30,867.80 174.70,853.20" fill="none" stroke="#2e2e2e" stroke-width="0.95" stroke-linejoin="round"/>
<text transform="translate(202.80,855.00) scale(0.7,1)" font-family="Liberation Serif" font-size="14.6" text-anchor="middle" fill="#2a2a2a">6</text>
<polyline points="193.20,854.40 200.80,867.10 206.80,867.10" fill="none" stroke="#2e2e2e" stroke-width="0.95" stroke-linejoin="round"/>
<text transform="translate(392.90,854.80) scale(0.7,1)" font-family="Liberation Serif" font-size="14.6" text-anchor="middle" fill="#2a2a2a">3</text>
<polyline points="378.00,854.40 390.10,866.60 396.50,866.60" fill="none" stroke="#2e2e2e" stroke-width="0.95" stroke-linejoin="round"/>
<text transform="translate(306.60,892.20) scale(0.7,1)" font-family="Liberation Serif" font-size="14.6" text-anchor="middle" fill="#2a2a2a">8</text>
<polyline points="293.90,897.50 304.00,903.80 310.40,903.80" fill="none" stroke="#2e2e2e" stroke-width="0.95" stroke-linejoin="round"/>
<text transform="translate(279.70,1010.70) scale(0.7,1)" font-family="Liberation Serif" font-size="14.6" text-anchor="middle" fill="#2a2a2a">6</text>
<polyline points="277.20,1022.30 283.50,1022.30 293.20,1013.20" fill="none" stroke="#2e2e2e" stroke-width="0.95" stroke-linejoin="round"/>
<text transform="translate(318.20,1046.70) scale(0.7,1)" font-family="Liberation Serif" font-size="14.6" text-anchor="middle" fill="#2a2a2a">4</text>
<polyline points="308.60,1046.80 315.20,1058.70 322.30,1058.70" fill="none" stroke="#2e2e2e" stroke-width="0.95" stroke-linejoin="round"/>
<rect x="503.35" y="216.3" width="237.5" height="363.3" fill="none" stroke="#2a2a2a" stroke-width="1.2"/>
<line x1="503.35" y1="239.10" x2="740.90" y2="239.10" stroke="#2a2a2a" stroke-width="1.2" stroke-linecap="butt"/>
<line x1="547.80" y1="216.30" x2="547.80" y2="579.60" stroke="#2a2a2a" stroke-width="1.3" stroke-linecap="butt"/>
<text class="cj" x="511.5" y="233.9" font-size="13.5" fill="#2a2a2a" textLength="26.6" lengthAdjust="spacing">曲线</text>
<text class="cj" x="630.25" y="233.9" font-size="13.5" fill="#2a2a2a" textLength="27.1" lengthAdjust="spacing">符号</text>
<text transform="translate(524.80,255.30) scale(0.86,1)" font-family="Liberation Sans" font-size="13.4" text-anchor="middle" fill="#4a4a4a">1</text>
<text x="643.80" y="255.50" font-family="Liberation Sans" font-size="14" text-anchor="middle" fill="#4a4a4a">C,D/0,C/0F</text>
<text x="643.80" y="278.30" font-family="Liberation Sans" font-size="14" text-anchor="middle" fill="#4a4a4a">D,D/0,D/0F</text>
<text x="643.80" y="302.00" font-family="Liberation Sans" font-size="14" text-anchor="middle" fill="#4a4a4a">Y,M</text>
<text transform="translate(524.80,325.20) scale(0.86,1)" font-family="Liberation Sans" font-size="13.4" text-anchor="middle" fill="#4a4a4a">2</text>
<text x="643.80" y="325.40" font-family="Liberation Sans" font-size="14" text-anchor="middle" fill="#4a4a4a">E</text>
<text transform="translate(524.80,347.10) scale(0.86,1)" font-family="Liberation Sans" font-size="13.4" text-anchor="middle" fill="#4a4a4a">3</text>
<text x="643.80" y="347.30" font-family="Liberation Sans" font-size="14" text-anchor="middle" fill="#4a4a4a">A/0,A/0F</text>
<text x="643.80" y="369.90" font-family="Liberation Sans" font-size="14" text-anchor="middle" fill="#4a4a4a">L,U,J,Q,W</text>
<text transform="translate(524.80,392.20) scale(0.86,1)" font-family="Liberation Sans" font-size="13.4" text-anchor="middle" fill="#4a4a4a">4</text>
<text x="643.80" y="392.40" font-family="Liberation Sans" font-size="14" text-anchor="middle" fill="#4a4a4a">H</text>
<text transform="translate(522.20,414.80) scale(0.86,1)" font-family="Liberation Sans" font-size="13.4" text-anchor="middle" fill="#4a4a4a">5</text>
<text transform="translate(528.20,409.40) scale(0.9,1)" font-family="Liberation Sans" font-size="8.4" text-anchor="middle" fill="#4a4a4a">1)</text>
<text x="643.80" y="415.00" font-family="Liberation Sans" font-size="14" text-anchor="middle" fill="#4a4a4a">R</text>
<text transform="translate(524.80,437.50) scale(0.86,1)" font-family="Liberation Sans" font-size="13.4" text-anchor="middle" fill="#4a4a4a">6</text>
<text x="643.80" y="437.70" font-family="Liberation Sans" font-size="14" text-anchor="middle" fill="#4a4a4a">G</text>
<text transform="translate(524.80,459.90) scale(0.86,1)" font-family="Liberation Sans" font-size="13.4" text-anchor="middle" fill="#4a4a4a">7</text>
<text x="643.80" y="460.10" font-family="Liberation Sans" font-size="14" text-anchor="middle" fill="#4a4a4a">T</text>
<text transform="translate(524.80,482.90) scale(0.86,1)" font-family="Liberation Sans" font-size="13.4" text-anchor="middle" fill="#4a4a4a">8</text>
<text x="643.80" y="483.10" font-family="Liberation Sans" font-size="14" text-anchor="middle" fill="#4a4a4a">F,P</text>
<text transform="translate(524.80,506.00) scale(0.86,1)" font-family="Liberation Sans" font-size="13.4" text-anchor="middle" fill="#4a4a4a">9</text>
<text x="643.80" y="506.20" font-family="Liberation Sans" font-size="14" text-anchor="middle" fill="#4a4a4a">A,B</text>
<text transform="translate(524.80,528.30) scale(0.86,1)" font-family="Liberation Sans" font-size="13.4" text-anchor="middle" fill="#4a4a4a">10</text>
<text x="643.80" y="528.50" font-family="Liberation Sans" font-size="14" text-anchor="middle" fill="#4a4a4a">V</text>
<text transform="translate(524.80,551.10) scale(0.86,1)" font-family="Liberation Sans" font-size="13.4" text-anchor="middle" fill="#4a4a4a">1)</text>
<text class="cj" x="630.99" y="551.2" font-size="12.8" fill="#2e2e2e">回油</text>
<text class="cj" x="595.0" y="574.2" font-size="12.8" fill="#2e2e2e">（</text>
<text class="cj" x="606.19" y="574.2" font-size="12.8" fill="#2e2e2e" textLength="75.8" lengthAdjust="spacing">与面积比无关</text>
<text class="cj" x="680.6" y="574.2" font-size="12.8" fill="#2e2e2e">）</text>
<rect x="503.35" y="608.05" width="237.5" height="388.5" fill="none" stroke="#2a2a2a" stroke-width="1.2"/>
<line x1="503.35" y1="659.20" x2="740.90" y2="659.20" stroke="#2a2a2a" stroke-width="1.2" stroke-linecap="butt"/>
<line x1="503.35" y1="682.20" x2="740.90" y2="682.20" stroke="#2a2a2a" stroke-width="1.2" stroke-linecap="butt"/>
<line x1="546.60" y1="659.20" x2="546.60" y2="996.50" stroke="#2a2a2a" stroke-width="1.3" stroke-linecap="butt"/>
<text x="531.0" y="630.0" font-family="Liberation Sans" font-size="12" fill="#262626" textLength="180.6" lengthAdjust="spacingAndGlyphs">42V,50Hz;110V,50Hz;120V,60Hz;</text>
<text x="531.4" y="646.4" font-family="Liberation Sans" font-size="12" fill="#262626" textLength="180.2" lengthAdjust="spacingAndGlyphs">127V,50Hz;220V,50Hz;240V,60Hz</text>
<text class="cj" x="512.2" y="676.2" font-size="12.4" font-weight="bold" fill="#222">曲线</text>
<text class="cj" x="631.1" y="676.2" font-size="12.4" font-weight="bold" fill="#222" textLength="25.0" lengthAdjust="spacing">符号</text>
<text transform="translate(524.40,697.60) scale(0.9,1)" font-family="Liberation Sans" font-size="10.6" text-anchor="middle" fill="#505050">1</text>
<text x="643.80" y="697.80" font-family="Liberation Sans" font-size="11.5" text-anchor="middle" fill="#505050">C,C/O,C/0F</text>
<text x="643.80" y="720.20" font-family="Liberation Sans" font-size="11.5" text-anchor="middle" fill="#505050">D,D/O,D/0F</text>
<text x="643.80" y="742.90" font-family="Liberation Sans" font-size="11.5" text-anchor="middle" fill="#505050">Y</text>
<text transform="translate(524.40,765.10) scale(0.9,1)" font-family="Liberation Sans" font-size="10.6" text-anchor="middle" fill="#505050">2</text>
<text x="643.80" y="765.30" font-family="Liberation Sans" font-size="11.5" text-anchor="middle" fill="#505050">E,L</text>
<text x="643.80" y="787.50" font-family="Liberation Sans" font-size="11.5" text-anchor="middle" fill="#505050">U,Q,W</text>
<text transform="translate(524.40,809.40) scale(0.9,1)" font-family="Liberation Sans" font-size="10.6" text-anchor="middle" fill="#505050">3</text>
<text x="643.80" y="809.60" font-family="Liberation Sans" font-size="11.5" text-anchor="middle" fill="#505050">M</text>
<text transform="translate(524.40,832.50) scale(0.9,1)" font-family="Liberation Sans" font-size="10.6" text-anchor="middle" fill="#505050">4</text>
<text x="643.80" y="832.70" font-family="Liberation Sans" font-size="11.5" text-anchor="middle" fill="#505050">A,B</text>
<text transform="translate(524.40,854.50) scale(0.9,1)" font-family="Liberation Sans" font-size="10.6" text-anchor="middle" fill="#505050">5</text>
<text x="643.80" y="854.70" font-family="Liberation Sans" font-size="11.5" text-anchor="middle" fill="#505050">A/O,A/OF,J</text>
<text transform="translate(524.40,877.60) scale(0.9,1)" font-family="Liberation Sans" font-size="10.6" text-anchor="middle" fill="#505050">6</text>
<text x="643.80" y="877.80" font-family="Liberation Sans" font-size="11.5" text-anchor="middle" fill="#505050">G</text>
<text transform="translate(524.40,899.60) scale(0.9,1)" font-family="Liberation Sans" font-size="10.6" text-anchor="middle" fill="#505050">7</text>
<text x="643.80" y="899.80" font-family="Liberation Sans" font-size="11.5" text-anchor="middle" fill="#505050">F,P</text>
<text transform="translate(524.40,922.70) scale(0.9,1)" font-family="Liberation Sans" font-size="10.6" text-anchor="middle" fill="#505050">8</text>
<text x="643.80" y="922.90" font-family="Liberation Sans" font-size="11.5" text-anchor="middle" fill="#505050">V</text>
<text transform="translate(524.40,944.40) scale(0.9,1)" font-family="Liberation Sans" font-size="10.6" text-anchor="middle" fill="#505050">9</text>
<text x="643.80" y="944.60" font-family="Liberation Sans" font-size="11.5" text-anchor="middle" fill="#505050">T</text>
<text transform="translate(524.40,967.10) scale(0.9,1)" font-family="Liberation Sans" font-size="10.6" text-anchor="middle" fill="#505050">10</text>
<text x="643.80" y="967.30" font-family="Liberation Sans" font-size="11.5" text-anchor="middle" fill="#505050">H</text>
<text transform="translate(524.40,989.50) scale(0.9,1)" font-family="Liberation Sans" font-size="10.6" text-anchor="middle" fill="#505050">11</text>
<text x="643.80" y="989.70" font-family="Liberation Sans" font-size="11.5" text-anchor="middle" fill="#505050">R</text>
<text x="373.2" y="1165.1" font-family="Liberation Serif, serif" font-size="15.4" fill="#151515" stroke="#151515" stroke-width="0.3" textLength="44.4" lengthAdjust="spacing" xml:space="preserve">- 120 -</text>
</svg>
</body></html>
